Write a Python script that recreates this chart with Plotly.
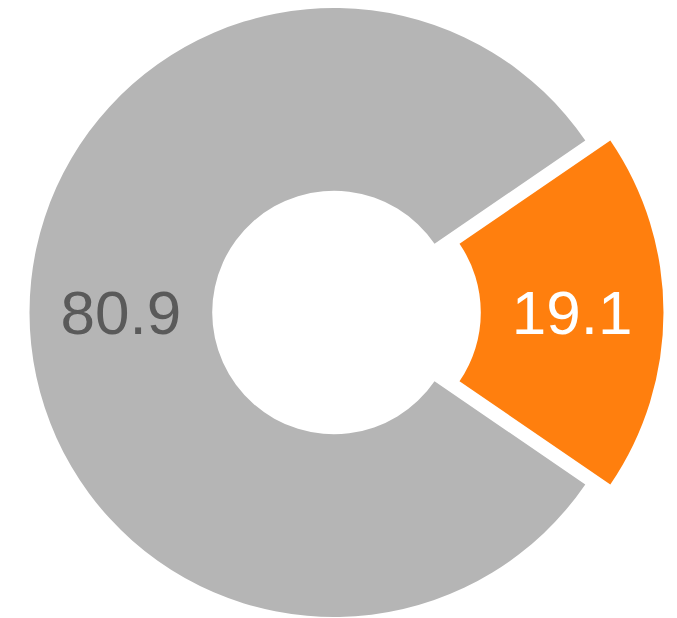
import plotly.graph_objects as go

labels = ["B", "A"]
values = [19.1, 80.9]
colors = ["#ff7f0e", "#b5b5b5"]
text_colors = ["#ffffff", "#5a5a5a"]

W, H = 677, 618
total = sum(values)
rotation = 90 - 360 * values[0] / total / 2

def fmt(v):
    return f"{v:.1f}"

# pie box geometry (figure pixels)
cx, r, pull_px = 326.0, 304.5, 25.0
y_dom = [1 - 609 / H, 1]

fig = go.Figure()
# base ring (gray visible, orange placeholder transparent)
fig.add_trace(go.Pie(
    labels=labels, values=values, sort=False, direction="clockwise",
    rotation=rotation, hole=0.40,
    marker=dict(colors=["rgba(0,0,0,0)", colors[1]], line=dict(width=0)),
    text=["", fmt(values[1])], textinfo="text", textposition="inside",
    insidetextorientation="horizontal",
    textfont=dict(family="Liberation Sans, Arial", size=62, color=text_colors[1]),
    domain=dict(x=[(cx - r) / W, (cx + r) / W], y=y_dom),
    hoverinfo="skip", showlegend=False,
))
# pulled-out orange slice (offset outward along its bisector)
fig.add_trace(go.Pie(
    labels=labels, values=values, sort=False, direction="clockwise",
    rotation=rotation, hole=0.40,
    marker=dict(colors=[colors[0], "rgba(0,0,0,0)"], line=dict(width=0)),
    text=[fmt(values[0]), ""], textinfo="text", textposition="inside",
    insidetextorientation="horizontal",
    textfont=dict(family="Liberation Sans, Arial", size=62, color=text_colors[0]),
    domain=dict(x=[(cx + pull_px - r) / W, (cx + pull_px + r) / W], y=y_dom),
    hoverinfo="skip", showlegend=False,
))
fig.update_layout(
    width=W, height=H, margin=dict(l=0, r=0, t=0, b=0),
    paper_bgcolor="white", plot_bgcolor="white", showlegend=False,
)
fig.write_html("out.html")
